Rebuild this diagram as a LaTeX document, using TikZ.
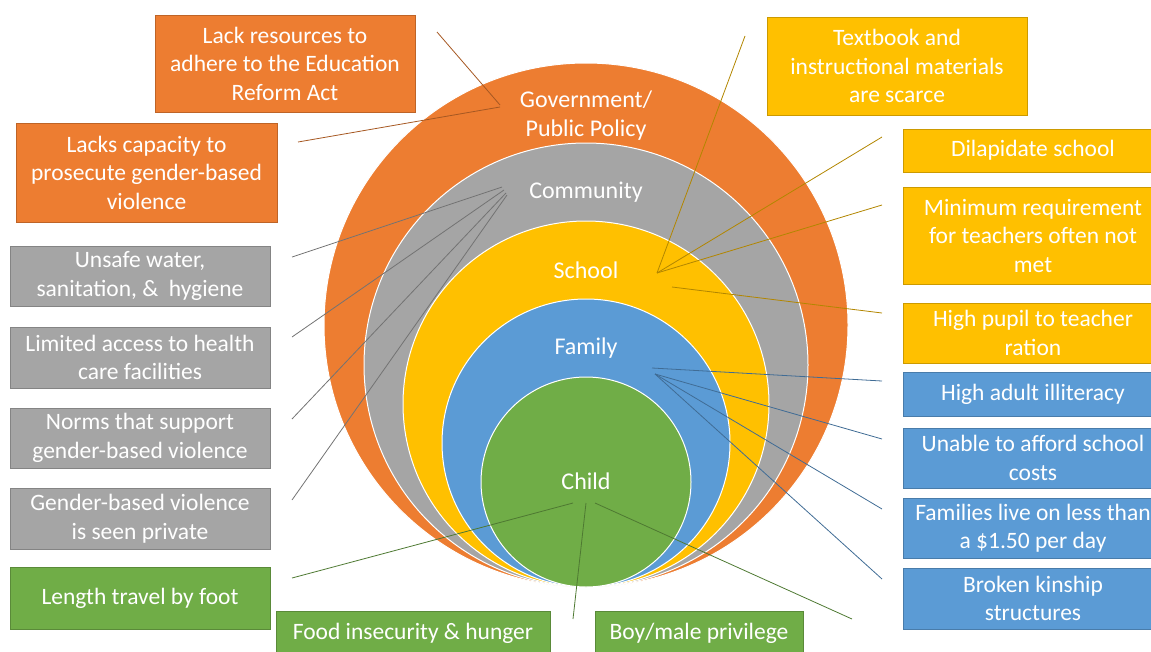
\documentclass[tikz,border=0pt]{standalone}
\usepackage{fontspec}
\setmainfont{Carlito}
\definecolor{govorange}{HTML}{ED7D31}
\definecolor{comgray}{HTML}{A5A5A5}
\definecolor{schyellow}{HTML}{FFC000}
\definecolor{famblue}{HTML}{5B9BD5}
\definecolor{chigreen}{HTML}{70AD47}
\tikzset{
	box/.style={draw=#1!80!black, fill=#1, text=white, align=center, inner sep=0pt, line width=0.8pt, font=\fontsize{23.5}{28.5}\selectfont},
	ring/.style={fill=#1, draw=white, line width=1pt},
	link/.style={draw=#1!70!black, line width=0.8pt},
	ringlabel/.style={text=white, align=center, font=\fontsize{24}{29}\selectfont},
}
\begin{document}
\begin{tikzpicture}[x=1pt,y=-1pt]
	\useasboundingbox (0,0) rectangle (1151,651);

	\draw[ring=govorange] (586,325) circle[radius=262pt];%Government
	\draw[ring=comgray] (586,365) circle[radius=222pt];%Community
	\draw[ring=schyellow] (586,404) circle[radius=183pt];%School
	\draw[ring=famblue] (586,443) circle[radius=144pt];%Family
	\draw[ring=chigreen] (586,482) circle[radius=105pt];%Child

	\node[ringlabel] (govlabel) at (586,115.5) {Government/\\Public Policy};
	\node[ringlabel] (comlabel) at (586,192) {Community};
	\node[ringlabel] (schlabel) at (586,270) {School};
	\node[ringlabel] (famlabel) at (586,348) {Family};
	\node[ringlabel] (chilabel) at (586,481) {Child};

	% linke Spalte
	\node[box=govorange, minimum width=260pt, minimum height=97pt] (gov1) at (285,63.5) {Lack resources to\\adhere to the Education\\Reform Act};
	\node[box=govorange, minimum width=261pt, minimum height=99pt] (gov2) at (146.5,172.5) {Lacks capacity to\\prosecute gender-based\\violence};
	\node[box=comgray, minimum width=260pt, minimum height=60pt] (com1) at (140,276) {Unsafe water,\\sanitation, \& \ hygiene};
	\node[box=comgray, minimum width=260pt, minimum height=61pt] (com2) at (140,357.5) {Limited access to health\\care facilities};
	\node[box=comgray, minimum width=260pt, minimum height=60pt] (com3) at (140,438) {Norms that support\\gender-based violence};
	\node[box=comgray, minimum width=260pt, minimum height=61pt] (com4) at (140,518.5) {Gender-based violence\\is seen private};
	\node[box=chigreen, minimum width=260pt, minimum height=62pt] (chi1) at (140,598) {Length travel by foot};
	\node[box=chigreen, minimum width=274pt, minimum height=44pt] (chi2) at (413,633) {Food insecurity \& hunger};
	\node[box=chigreen, minimum width=208pt, minimum height=44pt] (chi3) at (699,633) {Boy/male privilege};

	% rechte Spalte
	\node[box=schyellow, minimum width=260pt, minimum height=98pt] (sch1) at (897,66) {Textbook and\\instructional materials\\are scarce};
	\node[box=schyellow, minimum width=260pt, minimum height=43pt] (sch2) at (1033,150.5) {Dilapidate school};
	\node[box=schyellow, minimum width=260pt, minimum height=97pt] (sch3) at (1033,235.5) {Minimum requirement\\for teachers often not\\met};
	\node[box=schyellow, minimum width=260pt, minimum height=60pt] (sch4) at (1033,333) {High pupil to teacher\\ration};
	\node[box=famblue, minimum width=260pt, minimum height=44pt] (fam1) at (1033,394) {High adult illiteracy};
	\node[box=famblue, minimum width=260pt, minimum height=60pt] (fam2) at (1033,458) {Unable to afford school\\costs};
	\node[box=famblue, minimum width=260pt, minimum height=60pt] (fam3) at (1033,528) {Families live on less than\\a \$1.50 per day};
	\node[box=famblue, minimum width=260pt, minimum height=61pt] (fam4) at (1033,598.5) {Broken kinship\\structures};

	% Endpunkte der Linien
	\coordinate (govhubA) at (500,105);
	\coordinate (govhubB) at (500,107);
	\coordinate (gov1end) at (437,32);
	\coordinate (gov2end) at (298,142);
	\coordinate (com1end) at (292,257);
	\coordinate (com2end) at (292,337);
	\coordinate (com3end) at (292,419);
	\coordinate (com4end) at (292,500);
	\coordinate (sch1end) at (745,36);
	\coordinate (sch2end) at (882,137);
	\coordinate (sch3end) at (882,205);
	\coordinate (sch4end) at (882,313);
	\coordinate (schhub) at (657,273);
	\coordinate (schhubB) at (672,287);
	\coordinate (fam1end) at (882,381);
	\coordinate (fam2end) at (882,439);
	\coordinate (fam3end) at (882,509);
	\coordinate (fam4end) at (882,579);
	\coordinate (famhubA) at (652,368);
	\coordinate (famhubB) at (655,374);
	\coordinate (chi1end) at (292,578);
	\coordinate (chi2end) at (573,619);
	\coordinate (chi3end) at (852,619);

	\draw[link=govorange] (gov1end) -- (govhubA);
	\draw[link=govorange] (gov2end) -- (govhubB);
	\draw[link=comgray] (com1end) -- (502,187);
	\draw[link=comgray] (com2end) -- (504,190);
	\draw[link=comgray] (com3end) -- (506,193);
	\draw[link=comgray] (com4end) -- (507,195);
	\draw[link=schyellow] (sch1end) -- (schhub);
	\draw[link=schyellow] (sch2end) -- (schhub);
	\draw[link=schyellow] (sch3end) -- (schhub);
	\draw[link=schyellow] (sch4end) -- (schhubB);
	\draw[link=famblue] (fam1end) -- (famhubA);
	\draw[link=famblue] (fam2end) -- (famhubB);
	\draw[link=famblue] (fam3end) -- (famhubB);
	\draw[link=famblue] (fam4end) -- (famhubB);
	\draw[link=chigreen] (chi1end) -- (573,503);%Fuss
	\draw[link=chigreen] (chi2end) -- (586,503);%Hunger
	\draw[link=chigreen] (chi3end) -- (595,503);%Privileg

\end{tikzpicture}
\end{document}
